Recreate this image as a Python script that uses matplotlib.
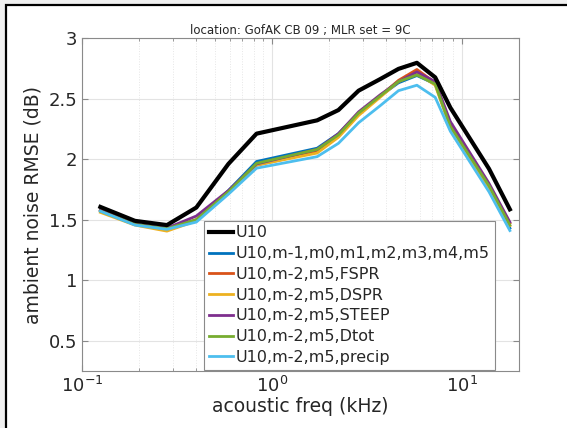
import matplotlib
matplotlib.use('Agg')
import matplotlib.pyplot as plt
from matplotlib.patches import Rectangle
from matplotlib.ticker import LogLocator, NullFormatter

# acoustic frequency (kHz) and RMSE (dB) per MLR predictor set
freq = [0.125, 0.19, 0.28, 0.40, 0.59, 0.83, 1.73, 2.24, 2.86, 3.71, 4.64, 5.8, 7.24, 8.7, 13.9, 17.9]

u10 = [1.605, 1.49, 1.455, 1.60, 1.96, 2.21, 2.32, 2.405, 2.565, 2.66, 2.745, 2.795, 2.675, 2.425, 1.92, 1.585]
u10_moments = [1.58, 1.46, 1.43, 1.495, 1.74, 1.98, 2.09, 2.21, 2.38, 2.52, 2.63, 2.69, 2.62, 2.27, 1.76, 1.43]
u10_fspr = [1.58, 1.46, 1.42, 1.50, 1.72, 1.95, 2.06, 2.19, 2.38, 2.52, 2.65, 2.74, 2.63, 2.28, 1.77, 1.47]
u10_dspr = [1.56, 1.455, 1.405, 1.49, 1.72, 1.95, 2.05, 2.18, 2.36, 2.51, 2.64, 2.71, 2.61, 2.26, 1.76, 1.45]
u10_steep = [1.575, 1.46, 1.43, 1.53, 1.74, 1.96, 2.08, 2.21, 2.39, 2.53, 2.64, 2.72, 2.64, 2.31, 1.80, 1.48]
u10_dtot = [1.57, 1.46, 1.425, 1.50, 1.73, 1.965, 2.08, 2.20, 2.38, 2.52, 2.64, 2.695, 2.62, 2.27, 1.78, 1.455]
u10_precip = [1.57, 1.455, 1.42, 1.48, 1.71, 1.925, 2.02, 2.13, 2.30, 2.44, 2.565, 2.61, 2.51, 2.23, 1.73, 1.41]

labels = ['U10', 'U10,m-1,m0,m1,m2,m3,m4,m5', 'U10,m-2,m5,FSPR', 'U10,m-2,m5,DSPR',
          'U10,m-2,m5,STEEP', 'U10,m-2,m5,Dtot', 'U10,m-2,m5,precip']
colors = ['black', '#0072BD', '#D95319', '#EDB120', '#7E2F8E', '#77AC30', '#4DBEEE']

plt.rcParams['font.family'] = 'DejaVu Sans'

fig = plt.figure(figsize=(5.67, 4.28), dpi=100, facecolor='#f0f0f0')
# white panel with black frame (screenshot border)
fig.patches.append(Rectangle((6 / 567, -0.1), 1.2, 1 - 5 / 428 + 0.1, transform=fig.transFigure,
                             facecolor='white', edgecolor='black', linewidth=1.6, zorder=-10))

ax = fig.add_axes([82 / 567, 57 / 428, 437 / 567, 333 / 428])

series = [u10, u10_moments, u10_fspr, u10_dspr, u10_steep, u10_dtot, u10_precip]
for i, (ys, lab, c) in enumerate(zip(series, labels, colors)):
    lw = 3.0 if i == 0 else 2.0
    ax.plot(freq, ys, color=c, linewidth=lw, label=lab, zorder=3 if i == 0 else 2)

ax.set_xscale('log')
ax.set_xlim(0.1, 20)
ax.set_ylim(0.25, 3)
ax.set_yticks([0.5, 1, 1.5, 2, 2.5, 3])
ax.set_yticklabels(['0.5', '1', '1.5', '2', '2.5', '3'])
ax.xaxis.set_minor_locator(LogLocator(base=10, subs=range(2, 10)))
ax.xaxis.set_minor_formatter(NullFormatter())

ax.grid(True, which='major', color='#e3e3e3', linewidth=0.8, linestyle='-')
ax.grid(True, which='minor', axis='x', color='#e6e6e6', linewidth=0.7, linestyle=':')
ax.set_axisbelow(True)

for s in ax.spines.values():
    s.set_color('#8a8a8a')
    s.set_linewidth(0.8)
ax.tick_params(which='both', direction='in', top=True, right=True, colors='#8a8a8a',
               labelcolor='#262626', labelsize=13)
ax.tick_params(which='major', length=4)
ax.tick_params(which='minor', length=2)

ax.set_xlabel('acoustic freq (kHz)', fontsize=13.5, color='#262626', labelpad=1)
ax.set_ylabel('ambient noise RMSE (dB)', fontsize=13.5, color='#262626', labelpad=4)
ax.set_title('location: GofAK CB 09 ; MLR set = 9C', fontsize=8.5, color='#262626', pad=3)

leg = ax.legend(loc='lower left', bbox_to_anchor=(0.279, 0.004), fontsize=11.5, fancybox=False,
                framealpha=1, edgecolor='#8a8a8a', handlelength=1.5, handletextpad=0.2,
                labelspacing=0.36, borderpad=0.3, borderaxespad=0)
leg.get_frame().set_linewidth(0.8)
for t in leg.get_texts():
    t.set_color('#262626')

fig.savefig('out.png', dpi=100, facecolor=fig.get_facecolor())
